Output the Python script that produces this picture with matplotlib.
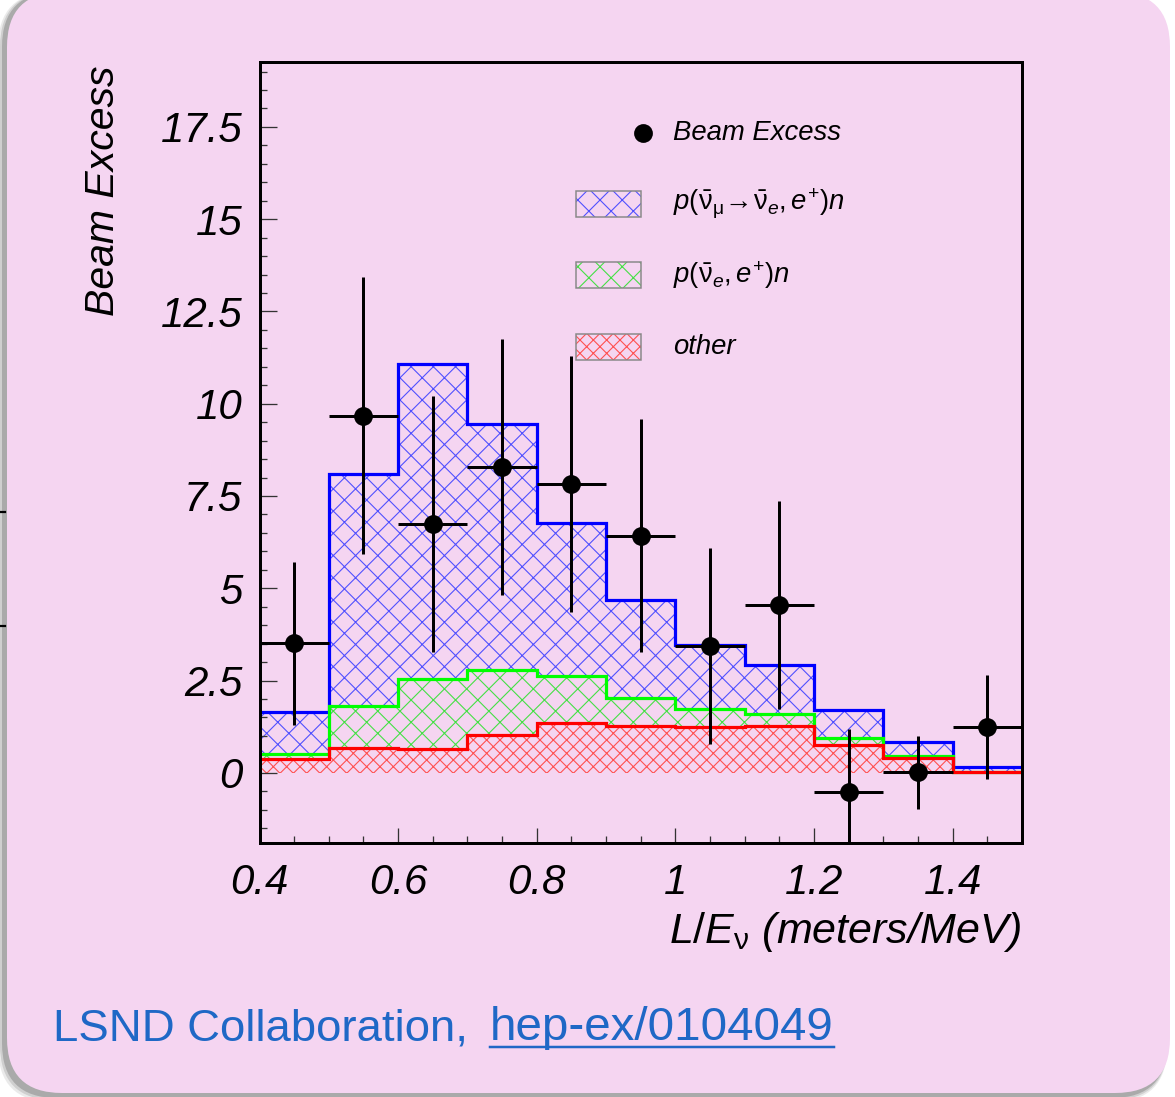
import numpy as np
import matplotlib
matplotlib.use("Agg")
import matplotlib.pyplot as plt
from matplotlib.patches import FancyBboxPatch, Rectangle
from matplotlib.ticker import MultipleLocator, FuncFormatter

# L/E bins (meters/MeV)
bin_edges = [0.4, 0.5, 0.6, 0.7, 0.8, 0.9, 1.0, 1.1, 1.2, 1.3, 1.4, 1.5]

# stacked expectation, top of each layer
stack_total = [1.66, 8.10, 11.07, 9.46, 6.77, 4.68, 3.45, 2.91, 1.71, 0.83, 0.17]
stack_nuebar = [0.52, 1.80, 2.55, 2.78, 2.62, 2.04, 1.73, 1.59, 0.95, 0.46, 0.03]
stack_other = [0.37, 0.68, 0.65, 1.03, 1.35, 1.28, 1.23, 1.26, 0.76, 0.40, 0.01]

# beam excess points
excess_x = [0.45, 0.55, 0.65, 0.75, 0.85, 0.95, 1.05, 1.15, 1.25, 1.35, 1.45]
excess_y = [3.51, 9.67, 6.74, 8.28, 7.82, 6.42, 3.43, 4.55, -0.53, 0.02, 1.25]
excess_err = [2.21, 3.75, 3.47, 3.47, 3.47, 3.16, 2.65, 2.82, 1.72, 0.99, 1.41]

legend_labels = ["Beam Excess",
                 r"$p(\bar{\mathrm{\nu}}_{\mathrm{\mu}}\!\rightarrow\!\bar{\mathrm{\nu}}_{e},e^{+})n$",
                 r"$p(\bar{\mathrm{\nu}}_{e},e^{+})n$",
                 "other"]

DPI = 200
W, H = 1175, 1097
PT = 72.0 / DPI  # points per pixel

plt.rcParams["font.family"] = ["Liberation Sans", "DejaVu Sans"]
plt.rcParams["mathtext.fontset"] = "custom"
plt.rcParams["mathtext.it"] = "Liberation Sans:italic"
plt.rcParams["mathtext.rm"] = "Liberation Sans"
plt.rcParams["mathtext.sf"] = "Liberation Sans"
plt.rcParams["hatch.linewidth"] = 1.1 * PT

pink = "#F5D5F1"
link_blue = "#1f68c6"
fig = plt.figure(figsize=(W / DPI, H / DPI), dpi=DPI)
fig.patch.set_facecolor("white")

# card background in pixel coordinates
bg = fig.add_axes([0, 0, 1, 1])
bg.set_xlim(0, W)
bg.set_ylim(H, 0)
bg.axis("off")
for grow, a in [(6, 0.12), (4, 0.18), (2, 0.3)]:
    bg.add_patch(FancyBboxPatch((7 - grow - 3, -8), 1163 + grow, 1101 + grow + 3,
                                boxstyle="round,pad=0,rounding_size=55",
                                fc="#555555", ec="none", alpha=a))
bg.add_patch(FancyBboxPatch((7, -8), 1163, 1101,
                            boxstyle="round,pad=0,rounding_size=55",
                            fc=pink, ec="none"))
for yy in [512, 626]:
    bg.plot([0, 5], [yy, yy], color="black", lw=2.2 * PT)

# reference line
bg.text(53, 1040, "LSND Collaboration,", fontsize=45.5 * PT, color=link_blue,
        ha="left", va="baseline")
link = bg.text(490, 1040, "hep-ex/0104049", fontsize=47.5 * PT, color=link_blue,
               ha="left", va="baseline")

# main plot
x0, x1, y0, y1 = 259.5, 1022, 62.3, 843.3
ax = fig.add_axes([x0 / W, 1 - y1 / H, (x1 - x0) / W, (y1 - y0) / H])
ax.set_facecolor("none")
ax.set_xlim(0.4, 1.5)
ax.set_ylim(-1.91, 19.25)

zeros = np.zeros(len(stack_other))
layers = [
    (stack_total, stack_nuebar, "#0000ff", "#5050ff", "xxx"),
    (stack_nuebar, stack_other, "#00ff00", "#44e044", "xxx"),
    (stack_other, zeros, "#ff0000", "#ff5050", "xxxxx"),
]
for top, low, line_c, hatch_c, hatch in layers:
    ax.stairs(top, bin_edges, baseline=low, fill=True, facecolor="none",
              edgecolor=hatch_c, linewidth=0, hatch=hatch, zorder=1)
for top, low, line_c, hatch_c, hatch in layers:
    ax.stairs(top, bin_edges, baseline=None, color=line_c, linewidth=3.2 * PT, zorder=2)

ax.errorbar(excess_x, excess_y, yerr=excess_err, xerr=0.05, fmt="o", color="black",
            markersize=16 * PT, elinewidth=3 * PT, capsize=0, zorder=5)

# axes styling
for s in ax.spines.values():
    s.set_linewidth(3 * PT)
ax.set_yticks(np.arange(0, 17.6, 2.5))
ax.set_xticks(np.arange(0.4, 1.41, 0.2))
ax.yaxis.set_minor_locator(MultipleLocator(0.5))
ax.xaxis.set_minor_locator(MultipleLocator(0.05))
fmt = FuncFormatter(lambda v, p: "{:g}".format(round(v, 2)))
ax.xaxis.set_major_formatter(fmt)
ax.yaxis.set_major_formatter(fmt)
tick_size = 42 * PT
ax.tick_params(axis="both", which="both", direction="in", width=1.3 * PT,
               labelsize=tick_size, color="#333333")
ax.tick_params(axis="y", which="major", length=17 * PT, pad=17 * PT)
ax.tick_params(axis="x", which="major", length=15 * PT, pad=20 * PT)
ax.tick_params(axis="both", which="minor", length=7 * PT)
for lab in ax.get_xticklabels() + ax.get_yticklabels():
    lab.set_fontstyle("italic")

ax.text(1.0, -0.085, r"$L/E_{\mathrm{\nu}}$ (meters/MeV)", transform=ax.transAxes,
        fontsize=43 * PT, fontstyle="italic", ha="right", va="top")
fig.text(103 / W, 1 - 191 / H, "Beam Excess", rotation=90, fontsize=41 * PT,
         fontstyle="italic", ha="center", va="center")

# legend
box_l, box_w, box_h = 0.4147, 0.0856, 0.0333
rows = [0.9095, 0.8186, 0.7277, 0.6355]
text_x = 0.5423
ax.plot([0.503], [rows[0]], "o", color="black", markersize=16 * PT,
        transform=ax.transAxes, clip_on=False)
for (top, low, line_c, hatch_c, hatch), ry in zip(layers, rows[1:]):
    ax.add_patch(Rectangle((box_l, ry - box_h / 2), box_w, box_h, transform=ax.transAxes,
                           facecolor="none", edgecolor=hatch_c, linewidth=0, hatch=hatch))
    ax.add_patch(Rectangle((box_l, ry - box_h / 2), box_w, box_h, transform=ax.transAxes,
                           facecolor="none", edgecolor="#888888", linewidth=1.5 * PT))
for lab, ry in zip(legend_labels, rows):
    ax.text(text_x, ry, lab, transform=ax.transAxes, fontsize=27.5 * PT,
            fontstyle="italic", ha="left", va="center")

# underline the link to the width of its text
fig.canvas.draw()
ext = link.get_window_extent().transformed(bg.transData.inverted())
bg.plot([ext.x0, ext.x1], [1047, 1047], color=link_blue, lw=2.5 * PT)

fig.savefig("out.png", dpi=DPI)
